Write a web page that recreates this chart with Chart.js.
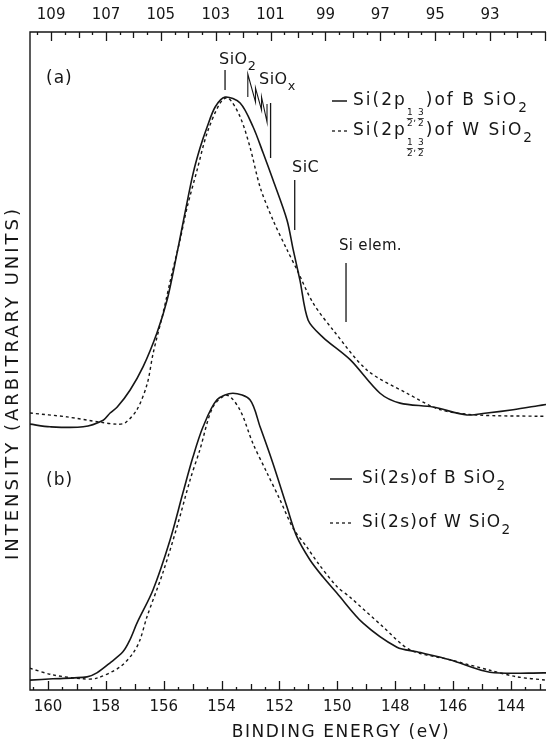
<!DOCTYPE html>
<html>
<head>
<meta charset="utf-8">
<script src="https://cdn.jsdelivr.net/npm/chart.js@4.4.0/dist/chart.umd.min.js"></script>
<style>
  html, body { margin: 0; padding: 0; background: #fff; }
</style>
</head>
<body>
<canvas id="c" width="550" height="745"></canvas>
<script>
// tick labels: top axis = Si 2p binding energy, bottom axis = Si 2s binding energy (eV)
const topTicks = [109, 107, 105, 103, 101, 99, 97, 95, 93];
const bottomTicks = [160, 158, 156, 154, 152, 150, 148, 146, 144];

// (a) Si(2p 1/2,3/2) of B SiO2  -- solid
const aSolidE = [109.77, 109.04, 107.83, 107.10, 106.85, 106.59, 106.12, 105.65, 105.14, 104.77, 104.41, 104.12, 103.83, 103.57, 103.31, 103.02, 102.66, 102.11, 101.64, 101.27, 100.91, 100.40, 100.18, 99.93, 99.63, 99.09, 98.10, 97.01, 96.28, 95.08, 93.84, 93.11, 92.16, 91.25, 90.96];
const aSolidI = [40.4, 40.0, 40.0, 41.0, 42.1, 43.0, 45.6, 49.1, 54.3, 59.3, 66.4, 72.5, 78.4, 82.4, 85.6, 88.6, 90.1, 89.2, 85.6, 81.6, 77.5, 71.4, 67.0, 62.3, 56.2, 53.6, 50.2, 45.1, 43.6, 43.0, 41.8, 42.1, 42.6, 43.2, 43.4];
// (a) Si(2p 1/2,3/2) of W SiO2  -- dashed
const aDashE = [109.77, 108.42, 107.21, 106.59, 106.30, 105.87, 105.50, 105.28, 104.92, 104.59, 104.30, 104.04, 103.68, 103.31, 102.84, 102.55, 102.11, 101.75, 101.38, 100.91, 100.40, 100.03, 99.45, 98.72, 97.48, 96.03, 94.82, 93.48, 91.18, 90.96];
const aDashI = [42.1, 41.5, 40.7, 40.4, 40.6, 42.6, 46.5, 51.2, 57.3, 63.4, 68.4, 73.4, 79.0, 84.7, 89.2, 90.0, 87.1, 82.5, 76.4, 71.4, 66.9, 63.8, 58.8, 54.7, 48.6, 45.1, 42.6, 41.8, 41.6, 41.6];

// (b) Si(2s) of B SiO2 -- solid
const bSolidE = [160.62, 159.83, 158.65, 158.31, 157.86, 157.41, 157.17, 156.92, 156.37, 155.78, 155.34, 154.99, 154.64, 154.16, 153.61, 153.02, 152.67, 152.23, 151.74, 151.40, 150.95, 150.50, 150.01, 149.12, 147.94, 147.25, 146.11, 144.73, 142.79];
const bSolidI = [1.5, 1.7, 2.0, 2.6, 4.1, 5.8, 7.6, 10.2, 15.2, 22.8, 29.9, 35.4, 40.0, 44.1, 45.1, 44.1, 40.0, 34.5, 27.8, 23.3, 19.8, 17.2, 14.7, 10.2, 6.5, 5.8, 4.6, 2.7, 2.6];
// (b) Si(2s) of W SiO2 -- dashed
const bDashE = [160.62, 159.83, 158.79, 158.31, 157.51, 157.06, 156.82, 156.58, 156.03, 155.54, 155.09, 154.75, 154.30, 153.81, 153.37, 152.92, 152.43, 151.98, 151.53, 151.05, 150.67, 150.01, 149.56, 148.42, 147.49, 146.11, 144.73, 143.79, 142.79];
const bDashI = [3.3, 2.3, 1.7, 1.8, 3.5, 5.6, 7.6, 11.1, 17.8, 24.8, 31.9, 36.5, 43.0, 44.8, 42.6, 37.5, 33.0, 28.9, 24.6, 21.7, 19.3, 15.7, 14.1, 9.6, 6.1, 4.6, 3.0, 2.0, 1.5];

const ink = '#161616';
const FONT = "'DejaVu Sans', sans-serif";

const pts = (xs, ys) => xs.map((x, i) => ({ x: x, y: ys[i] }));

function txt(ctx, s, x, y, size, sp, align) {
    ctx.font = size + 'px ' + FONT;
    ctx.letterSpacing = (sp || 0) + 'px';
    ctx.textAlign = align || 'left';
    ctx.textBaseline = 'middle';
    ctx.fillText(s, x, y);
    return ctx.measureText(s).width;
}

// text with subscripts and the stacked 1/2,3/2 fractions
function rich(ctx, x, y, size, sp, parts) {
    let cx = x;
    parts.forEach(([s, kind]) => {
        if (kind === 'sub') {
            cx += txt(ctx, s, cx, y + size * 0.42, size * 0.8, 0);
        } else if (kind === 'frac') {
            [['1', '2'], ['3', '2']].forEach((f, k) => {
                const fx = cx + 3 + k * 11;
                txt(ctx, f[0], fx, y + 12, 9, 0, 'center');
                txt(ctx, f[1], fx, y + 23, 9, 0, 'center');
                ctx.lineWidth = 0.8;
                ctx.beginPath();
                ctx.moveTo(fx - 3, y + 17.5); ctx.lineTo(fx + 3, y + 17.5);
                ctx.stroke();
            });
            txt(ctx, ',', cx + 8, y + 18, 9, 0, 'center');
            cx += 19;
        } else {
            cx += txt(ctx, s, cx, y, size, sp);
        }
    });
}

function seg(ctx, x1, y1, x2, y2, w) {
    ctx.lineWidth = w || 1;
    ctx.beginPath();
    ctx.moveTo(x1, y1);
    ctx.lineTo(x2, y2);
    ctx.stroke();
}

const framePlugin = {
    id: 'framePlugin',
    afterDraw(chart) {
        const ctx = chart.ctx;
        const a = chart.chartArea;
        const xb = chart.scales.x, xt = chart.scales.x2;
        ctx.save();
        ctx.strokeStyle = ink;
        ctx.fillStyle = ink;
        ctx.setLineDash([]);

        // frame, open on the right
        ctx.lineWidth = 1.4;
        ctx.beginPath();
        ctx.moveTo(a.right, a.top);
        ctx.lineTo(a.left, a.top);
        ctx.lineTo(a.left, a.bottom);
        ctx.lineTo(a.right, a.bottom);
        ctx.stroke();

        // inward ticks every 0.5 eV
        ctx.lineWidth = 1.3;
        ctx.beginPath();
        for (let k = 286; k <= 321; k++) {
            const e = k / 2;
            const px = Math.round(xb.getPixelForValue(e)) + 0.5;
            const len = (k % 4 === 0) ? 9 : (k % 2 === 0 ? 6 : 3);
            ctx.moveTo(px, a.bottom);
            ctx.lineTo(px, a.bottom - len);
        }
        for (let k = 182; k <= 219; k++) {
            const e = k / 2;
            const px = Math.round(xt.getPixelForValue(e)) + 0.5;
            const len = (k % 4 === 2) ? 9 : (k % 2 === 0 ? 6 : 3);
            ctx.moveTo(px, a.top);
            ctx.lineTo(px, a.top + len);
        }
        ctx.stroke();

        // axis titles
        ctx.save();
        ctx.translate(13, 383);
        ctx.rotate(-Math.PI / 2);
        txt(ctx, 'INTENSITY (ARBITRARY UNITS)', 0, 0, 18, 3, 'center');
        ctx.restore();
        txt(ctx, 'BINDING ENERGY (eV)', 341, 733, 17, 1.6, 'center');

        // panel labels
        txt(ctx, '(a)', 46, 79, 17, 1);
        txt(ctx, '(b)', 46, 481, 17, 1);

        // peak markers of panel (a), on the Si 2p scale
        const m = v => xt.getPixelForValue(v);
        rich(ctx, 219, 60, 16, 0.5, [['SiO', ''], ['2', 'sub']]);
        seg(ctx, m(102.66), 70, m(102.66), 90, 1.3);

        rich(ctx, 259, 80, 16, 0.5, [['SiO', ''], ['x', 'sub']]);
        ctx.lineWidth = 1.1;
        ctx.beginPath();
        ctx.moveTo(m(101.83), 97); ctx.lineTo(m(101.83), 74);
        ctx.lineTo(m(101.55), 102); ctx.lineTo(m(101.55), 88);
        ctx.lineTo(m(101.33), 110); ctx.lineTo(m(101.33), 97);
        ctx.lineTo(m(101.13), 122); ctx.lineTo(m(101.13), 104);
        ctx.stroke();
        seg(ctx, m(101.0), 103, m(101.0), 158, 1.3);

        txt(ctx, 'SiC', 292, 168, 16, 0.5);
        seg(ctx, m(100.12), 180, m(100.12), 230, 1.3);

        txt(ctx, 'Si elem.', 339, 246, 15, 0.3);
        seg(ctx, m(98.25), 263, m(98.25), 322, 1.3);

        // legends
        seg(ctx, 332, 101, 347, 101, 1.5);
        rich(ctx, 353, 101, 17, 2, [['Si(2p', ''], ['', 'frac'], [')of B SiO', ''], ['2', 'sub']]);
        ctx.setLineDash([3, 3]);
        seg(ctx, 332, 131, 348, 131, 1.3);
        ctx.setLineDash([]);
        rich(ctx, 353, 131, 17, 2, [['Si(2p', ''], ['', 'frac'], [')of W SiO', ''], ['2', 'sub']]);

        seg(ctx, 330, 479, 352, 479, 1.5);
        rich(ctx, 362, 479, 17, 1.3, [['Si(2s)of B SiO', ''], ['2', 'sub']]);
        ctx.setLineDash([3, 3]);
        seg(ctx, 330, 523, 352, 523, 1.3);
        ctx.setLineDash([]);
        rich(ctx, 362, 523, 17, 1.3, [['Si(2s)of W SiO', ''], ['2', 'sub']]);

        ctx.restore();
    }
};

const solid = { borderColor: ink, borderWidth: 1.6, pointRadius: 0, tension: 0.3, showLine: true, fill: false };
const dashed = { borderColor: ink, borderWidth: 1.4, borderDash: [3, 3], pointRadius: 0, tension: 0.3, showLine: true, fill: false };

new Chart(document.getElementById('c'), {
    type: 'scatter',
    data: {
        datasets: [
            Object.assign({ label: 'Si(2p) of B SiO2', data: pts(aSolidE, aSolidI), xAxisID: 'x2' }, solid),
            Object.assign({ label: 'Si(2p) of W SiO2', data: pts(aDashE, aDashI), xAxisID: 'x2' }, dashed),
            Object.assign({ label: 'Si(2s) of B SiO2', data: pts(bSolidE, bSolidI), xAxisID: 'x' }, solid),
            Object.assign({ label: 'Si(2s) of W SiO2', data: pts(bDashE, bDashI), xAxisID: 'x' }, dashed)
        ]
    },
    options: {
        responsive: false,
        animation: false,
        devicePixelRatio: 1,
        layout: { padding: { left: 30, right: 4, top: 0, bottom: 0 } },
        plugins: { legend: { display: false }, tooltip: { enabled: false } },
        scales: {
            x: {
                type: 'linear', position: 'bottom', reverse: true,
                min: 142.79, max: 160.62,
                afterBuildTicks: s => { s.ticks = bottomTicks.map(v => ({ value: v })); },
                afterFit: s => { s.height = 55; },
                ticks: { color: ink, font: { family: FONT, size: 15 }, padding: 0, maxRotation: 0, autoSkip: false },
                grid: { display: false },
                border: { display: false }
            },
            x2: {
                type: 'linear', position: 'top', reverse: true,
                min: 90.96, max: 109.77,
                afterBuildTicks: s => { s.ticks = topTicks.map(v => ({ value: v })); },
                afterFit: s => { s.height = 32; },
                ticks: { color: ink, font: { family: FONT, size: 15 }, padding: 0, maxRotation: 0, autoSkip: false },
                grid: { display: false },
                border: { display: false }
            },
            y: { display: false, min: 0, max: 100 }
        }
    },
    plugins: [framePlugin]
});
</script>
</body>
</html>
